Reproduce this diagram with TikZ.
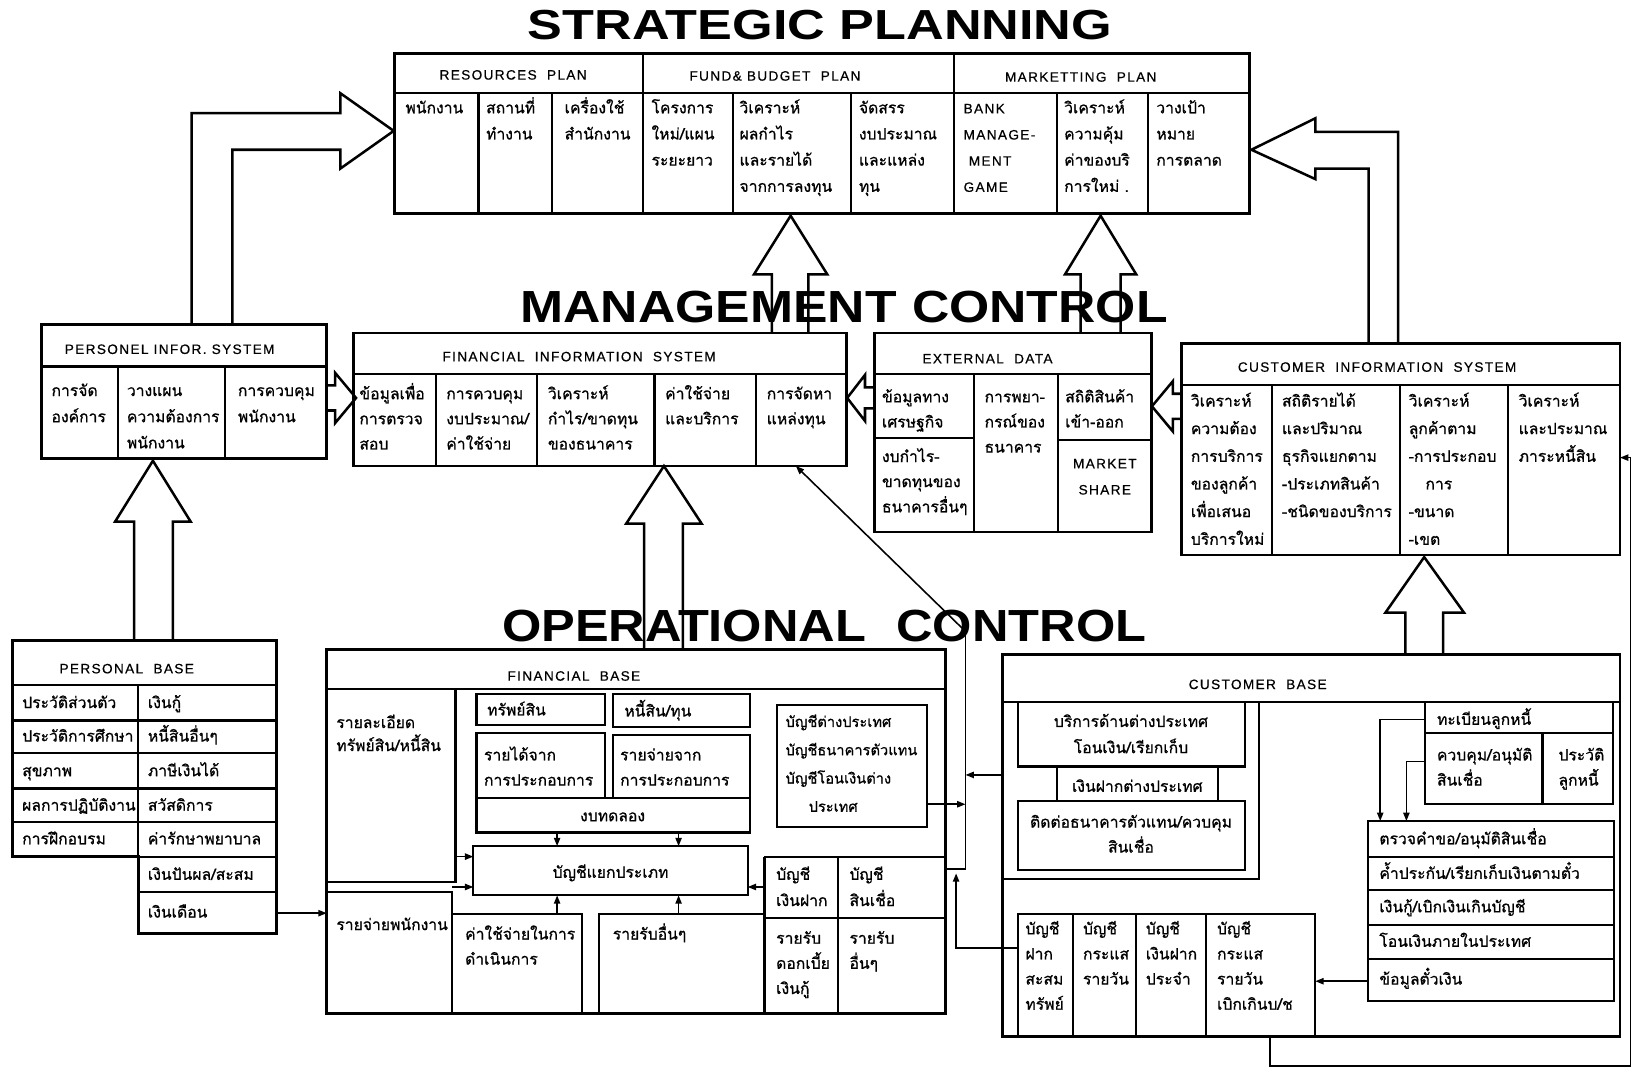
\documentclass[tikz,border=0pt]{standalone}
\usepackage{fontspec}
\usepackage{graphicx}
\setmainfont{Loma}[Script=Thai,FakeBold=0.8]
\newfontfamily\lat{Liberation Sans}[LetterSpace=10,FakeBold=0.5]
\newfontfamily\titlef{Liberation Sans}
\usetikzlibrary{arrows.meta}
\newcommand\cs{\rule{0pt}{16pt}}
\tikzset{
  ob/.style={line width=2.8pt},
  ib/.style={line width=2.1pt},
  thinln/.style={line width=1.5pt},
  blk/.style={line width=2.4pt, line join=miter},
  ar/.style={line width=1.5pt, -{Triangle[length=8pt,width=6pt]}},
  tx/.style={anchor=north west, inner sep=0pt, align=left, font=\fontsize{15}{25}\selectfont},
  txc/.style={anchor=north, inner sep=0pt, align=center, font=\fontsize{15}{25}\selectfont},
  ls24/.style={font=\fontsize{15}{24}\selectfont},
  ls22/.style={font=\fontsize{15}{22}\selectfont},
  ls26/.style={font=\fontsize{15}{26.4}\selectfont},
  ls27/.style={font=\fontsize{14}{27}\selectfont},
  latf/.style={font=\lat\fontsize{13}{25}\selectfont},
  hd/.style={anchor=base, inner sep=0pt, font=\lat\fontsize{13}{15}\selectfont},
  ttl/.style={inner sep=0pt}
}
\newcommand\Tcell[5][]{\node[tx,#1] (#2) at (#3,#4-16) {\cs #5};}
\newcommand\Tcen[5][]{\node[txc,#1] (#2) at (#3,#4-16) {\cs #5};}
\newcommand\Hd[4]{\node[hd] (#1) at (#2,#3) {#4};}
\begin{document}
\begin{tikzpicture}[x=1pt,y=-1pt]
\useasboundingbox (0,0) rectangle (1568,1022);
\fill[white] (0,0) rectangle (1568,1022);

% ---------- titles
\node[ttl] (tSP) at (783,24) {\resizebox{558pt}{28pt}{\titlef\bfseries STRATEGIC PLANNING}};
\node[ttl] (tMC) at (806,293) {\resizebox{618pt}{30pt}{\titlef\bfseries MANAGEMENT\hspace{0.3em}CONTROL}};
\node[ttl] (tOC) at (787,598) {\resizebox{615pt}{30pt}{\titlef\bfseries OPERATIONAL\hspace{0.6em}CONTROL}};

% ---------- STRATEGIC PLANNING box
\draw[ob] (377,51) rectangle (1193,204);
\draw[ib] (377,89) -- (1193,89);
\draw[ib] (614,51) -- (614,204) (911,51) -- (911,204);
\foreach \x in {457,527,700,813,1009,1096} \draw[ib] (\x,89) -- (\x,204);
\Hd{hRes}{490}{76}{RESOURCES\ \ PLAN}
\Hd{hFund}{740}{77}{FUND\&\ BUDGET\ \ PLAN}
\Hd{hMkt}{1032}{78}{MARKETTING\ \ PLAN}
\Tcell{s1}{387}{108}{พนักงาน}
\Tcell{s2}{464}{108}{สถานที่\\ทำงาน}
\Tcell{s3}{539}{108}{เครื่องใช้\\สำนักงาน}
\Tcell{s4}{622}{108}{โครงการ\\ใหม่/แผน\\ระยะยาว}
\Tcell{s5}{706}{108}{วิเคราะห์\\ผลกำไร\\และรายได้\\จากการลงทุน}
\Tcell{s6}{820}{108}{จัดสรร\\งบประมาณ\\และแหล่ง\\ทุน}
\Tcell[latf]{s7}{920}{108}{BANK\\MANAGE-\\\ MENT\\GAME}
\Tcell{s8}{1016}{108}{วิเคราะห์\\ความคุ้ม\\ค่าของบริ\\การใหม่ .}
\Tcell{s9}{1104}{108}{วางเป้า\\หมาย\\การตลาด}

% ---------- big block arrows to strategic planning
\draw[blk] (183,310) -- (183,108) -- (325,108) -- (325,89) -- (376,125) -- (325,161) -- (325,143) -- (222,143) -- (222,310);
\draw[blk] (1335,328) -- (1335,126) -- (1256,126) -- (1256,113) -- (1195,143) -- (1256,171) -- (1256,161) -- (1307,161) -- (1307,328);
\draw[blk] (737,318) -- (737,262) -- (720,262) -- (755,206) -- (790,262) -- (772,262) -- (772,318);
\draw[blk] (1032,318) -- (1032,262) -- (1017,262) -- (1051,206) -- (1085,262) -- (1070,262) -- (1070,318);

% ---------- PERSONEL INFOR. SYSTEM
\draw[ob] (40,310) rectangle (312,438);
\draw[ib] (40,350) -- (312,350) (113,350) -- (113,438) (215,350) -- (215,438);
\Hd{hPIS}{162}{338}{PERSONEL\ INFOR.\ SYSTEM}
\Tcell{p1}{49}{378}{การจัด\\องค์การ}
\Tcell{p2}{121}{378}{วางแผน\\ความต้องการ\\พนักงาน}
\Tcell{p3}{227}{378}{การควบคุม\\พนักงาน}

% ---------- FINANCIAL INFORMATION SYSTEM
\draw[ob] (338,318) rectangle (808,445);
\draw[ib] (338,357) -- (808,357);
\foreach \x in {416,513,625,722} \draw[ib] (\x,357) -- (\x,445);
\Hd{hFIS}{553}{345}{FINANCIAL\ \ INFORMATION\ \ SYSTEM}
\Tcell[ls24]{f1}{343}{381}{ข้อมูลเพื่อ\\การตรวจ\\สอบ}
\Tcell[ls24]{f2}{426}{381}{การควบคุม\\งบประมาณ/\\ค่าใช้จ่าย}
\Tcell[ls24]{f3}{523}{381}{วิเคราะห์\\กำไร/ขาดทุน\\ของธนาคาร}
\Tcell[ls24]{f4}{635}{381}{ค่าใช้จ่าย\\และบริการ}
\Tcell[ls24]{f5}{732}{381}{การจัดหา\\แหล่งทุน}

% ---------- EXTERNAL DATA
\draw[ob] (835,318) rectangle (1100,508);
\draw[ib] (835,357) -- (1100,357) (930,357) -- (930,508) (1010,357) -- (1010,508)
          (835,418) -- (930,418) (1010,420) -- (1100,420);
\Hd{hED}{943}{347}{EXTERNAL\ \ DATA}
\Tcell[ls24]{e1}{842}{384}{ข้อมูลทาง\\เศรษฐกิจ}
\Tcell[ls24]{e2}{842}{441}{งบกำไร-\\ขาดทุนของ\\ธนาคารอื่นๆ}
\Tcell[ls24]{e3}{940}{384}{การพยา-\\กรณ์ของ\\ธนาคาร}
\Tcell[ls24]{e4}{1017}{384}{สถิติสินค้า\\เข้า-ออก}
\Tcen[latf]{e5}{1055}{447}{MARKET\\SHARE}

% ---------- CUSTOMER INFORMATION SYSTEM
\draw[ob] (1128,328) rectangle (1547,530);
\draw[ib] (1128,368) -- (1547,368);
\foreach \x in {1215,1337,1440} \draw[ib] (\x,368) -- (\x,530);
\Hd{hCIS}{1315}{355}{CUSTOMER\ \ INFORMATION\ \ SYSTEM}
\Tcell[ls26]{c1}{1137}{388}{วิเคราะห์\\ความต้อง\\การบริการ\\ของลูกค้า\\เพื่อเสนอ\\บริการใหม่}
\Tcell[ls26]{c2}{1224}{388}{สถิติรายได้\\และปริมาณ\\ธุรกิจแยกตาม\\-ประเภทสินค้า\\-ชนิดของบริการ}
\Tcell[ls26]{c3}{1345}{388}{วิเคราะห์\\ลูกค้าตาม\\-การประกอบ\\\hspace*{16pt}การ\\-ขนาด\\-เขต}
\Tcell[ls26]{c4}{1450}{388}{วิเคราะห์\\และประมาณ\\ภาระหนี้สิน}

% ---------- small arrows between information systems
\draw[blk] (312,368) -- (320,368) -- (320,356) -- (340,380) -- (320,404) -- (320,392) -- (312,392);
\draw[blk] (835,370) -- (826,370) -- (826,358) -- (809,380) -- (826,402) -- (826,390) -- (835,390);
\draw[blk] (1128,376) -- (1120,376) -- (1120,364) -- (1100,388) -- (1120,412) -- (1120,400) -- (1128,400);

% ---------- block arrows from bases
\draw[blk] (128,612) -- (128,498) -- (110,498) -- (146,440) -- (182,498) -- (165,498) -- (165,612);
\draw[blk] (615,620) -- (615,500) -- (598,500) -- (634,445) -- (670,500) -- (652,500) -- (652,620);
\draw[blk] (1342,625) -- (1342,585) -- (1323,585) -- (1360,532) -- (1398,585) -- (1378,585) -- (1378,625);

% ---------- PERSONAL BASE
\draw[ob] (12,612) -- (264,612) -- (264,891) -- (132,891) -- (132,818) -- (12,818) -- cycle;
\draw[ib] (12,654) -- (264,654) (132,654) -- (132,891);
\foreach \y in {688,719,753,785} \draw[ib] (12,\y) -- (264,\y);
\draw[ib] (132,818) -- (264,818) (132,852) -- (264,852);
\Hd{hPB}{121}{643}{PERSONAL\ \ BASE}
\Tcell{b1}{21}{676}{ประวัติส่วนตัว}
\Tcell{b2}{21}{708}{ประวัติการศึกษา}
\Tcell{b3}{21}{741}{สุขภาพ}
\Tcell{b4}{21}{774}{ผลการปฏิบัติงาน}
\Tcell{b5}{21}{806}{การฝึกอบรม}
\Tcell{b6}{141}{676}{เงินกู้}
\Tcell{b7}{141}{708}{หนี้สินอื่นๆ}
\Tcell{b8}{141}{741}{ภาษีเงินได้}
\Tcell{b9}{141}{774}{สวัสดิการ}
\Tcell{b10}{141}{806}{ค่ารักษาพยาบาล}
\Tcell{b11}{141}{840}{เงินปันผล/สะสม}
\Tcell{b12}{141}{876}{เงินเดือน}
\coordinate (pbOut) at (264,872);
\coordinate (fbIn) at (312,872);
\draw[ar] (pbOut) -- (fbIn);

% ---------- FINANCIAL BASE
\draw[ob] (312,620) rectangle (903,968);
\draw[ib] (312,658) -- (903,658);
\draw[ib] (435,658) -- (435,842) -- (312,842);
\draw[ib] (312,852) -- (432,852) -- (432,968);
\Hd{hFB}{548}{650}{FINANCIAL\ \ BASE}
\Tcell[ls22]{g1}{321}{695}{รายละเอียด\\ทรัพย์สิน/หนี้สิน}
\Tcell{g2}{321}{888}{รายจ่ายพนักงาน}
\draw[ib] (455,663) rectangle (578,692);
\draw[ib] (585,663) rectangle (716,694);
\draw[ib] (455,700) rectangle (578,762);
\draw[ib] (585,702) rectangle (716,762);
\draw[ib] (455,762) rectangle (716,795);
\draw[ib] (742,673) rectangle (885,790);
\draw[ib] (452,808) rectangle (714,855);
\Tcell{g3}{465}{683}{ทรัพย์สิน}
\Tcell{g4}{596}{684}{หนี้สิน/ทุน}
\Tcell[ls24]{g5}{462}{726}{รายได้จาก\\การประกอบการ}
\Tcell[ls24]{g6}{592}{726}{รายจ่ายจาก\\การประกอบการ}
\Tcen{g7}{585}{784}{งบทดลอง}
\Tcell[ls27]{g8}{750}{694}{บัญชีต่างประเทศ\\บัญชีธนาคารตัวแทน\\บัญชีโอนเงินต่าง\\\hspace*{22pt}ประเทศ}
\Tcen{g9}{583}{838}{บัญชีแยกประเภท}
\draw[ib] (432,873) -- (556,873) -- (556,968);
\draw[ib] (572,968) -- (572,873) -- (730,873);
\Tcell[ls24]{g10}{444}{897}{ค่าใช้จ่ายในการ\\ดำเนินการ}
\Tcell{g11}{585}{897}{รายรับอื่นๆ}
\draw[ib] (730,818) -- (903,818) (730,818) -- (730,968) (800,818) -- (800,968) (730,877) -- (903,877);
\Tcell{g12}{741}{840}{บัญชี\\เงินฝาก}
\Tcell{g13}{811}{840}{บัญชี\\สินเชื่อ}
\Tcell[ls24]{g14}{741}{901}{รายรับ\\ดอกเบี้ย\\เงินกู้}
\Tcell[ls24]{g15}{811}{901}{รายรับ\\อื่นๆ}
% internal connectors
\coordinate (gl) at (452,818); \coordinate (gl2) at (452,847);
\coordinate (gr) at (714,847);
\draw[ar] (435,818) -- (gl);
\draw[ar] (432,847) -- (gl2);
\draw[ar] (730,847) -- (gr);
\draw[ar] (532,795) -- (532,808);
\draw[ar] (648,795) -- (648,808);
\draw[ar] (532,873) -- (532,855);
\draw[ar] (648,873) -- (648,855);

% ---------- CUSTOMER BASE
\draw[ob] (957,625) rectangle (1547,990);
\draw[ib] (957,670) -- (1547,670);
\Hd{hCB}{1201}{658}{CUSTOMER\ \ BASE}
\draw[ib] (1202,670) -- (1202,839) -- (957,839);
\draw[ib] (972,670) -- (972,732) -- (1189,732) -- (1189,670);
\draw[ib] (1009,732) -- (1009,765) (1163,732) -- (1163,765);
\draw[ib] (972,765) rectangle (1189,831);
\Tcen{k1}{1080}{694}{บริการด้านต่างประเทศ\\โอนเงิน/เรียกเก็บ}
\Tcen{k2}{1086}{756}{เงินฝากต่างประเทศ}
\Tcen[ls24]{k3}{1080}{790}{ติดต่อธนาคารตัวแทน/ควบคุม\\สินเชื่อ}
\draw[ib] (1361,670) -- (1361,768) -- (1540,768) -- (1540,670);
\draw[ib] (1361,700) -- (1540,700) (1473,700) -- (1473,768);
\Tcell{k4}{1372}{692}{ทะเบียนลูกหนี้}
\Tcell[ls24]{k5}{1372}{726}{ควบคุม/อนุมัติ\\สินเชื่อ}
\Tcell[ls24]{k6}{1488}{726}{ประวัติ\\ลูกหนี้}
\draw[ib] (1306,784) rectangle (1541,956);
\foreach \y in {818,850,883,916} \draw[ib] (1306,\y) -- (1541,\y);
\Tcell{k7}{1317}{806}{ตรวจคำขอ/อนุมัติสินเชื่อ}
\Tcell{k8}{1317}{839}{ค้ำประกัน/เรียกเก็บเงินตามตั๋ว}
\Tcell{k9}{1317}{871}{เงินกู้/เบิกเงินเกินบัญชี}
\Tcell{k10}{1317}{904}{โอนเงินภายในประเทศ}
\Tcell{k11}{1317}{940}{ข้อมูลตั๋วเงิน}
\draw[ib] (972,990) -- (972,873) -- (1256,873) -- (1256,990);
\foreach \x in {1025,1085,1152} \draw[ib] (\x,873) -- (\x,990);
\Tcell[ls24]{k12}{979}{892}{บัญชี\\ฝาก\\สะสม\\ทรัพย์}
\Tcell[ls24]{k13}{1034}{892}{บัญชี\\กระแส\\รายวัน}
\Tcell[ls24]{k14}{1094}{892}{บัญชี\\เงินฝาก\\ประจำ}
\Tcell[ls24]{k15}{1162}{892}{บัญชี\\กระแส\\รายวัน\\เบิกเกินบ/ช}
% customer base connectors
\coordinate (regL) at (1361,687); \coordinate (ctlL) at (1361,727);
\coordinate (lstT1) at (1318,784); \coordinate (lstT2) at (1343,784);
\draw[ar] (regL) -| (lstT1);
\draw[ar] (ctlL) -| (lstT2);
\coordinate (billL) at (1306,937); \coordinate (accR) at (1256,937);
\draw[ar] (billL) -- (accR);

% ---------- bus to financial information system
\coordinate (fisB) at (760,445);
\coordinate (busT) at (922,603);
\coordinate (busB) at (922,830);
\coordinate (fbR) at (903,830);
\draw[ar] (busT) -- (fisB);
\draw[thinln] (busT) -- (busB) -- (fbR);
\coordinate (forR) at (885,768);
\draw[ar] (forR) -- (forR -| busT);
\coordinate (cbL) at (957,740);
\draw[ar] (cbL) -- (cbL -| busT);
\coordinate (savL) at (972,905);
\coordinate (upT) at (913,834);
\draw[ar] (savL) -- (savL -| upT) -- (upT);

% ---------- feedback from customer base to CIS
\coordinate (cbOut) at (1213,990);
\coordinate (cisIn) at (1547,437);
\draw[ar] (cbOut) -- ++(0,28) -| ([xshift=10pt]cisIn) -- (cisIn);
\end{tikzpicture}
\end{document}
